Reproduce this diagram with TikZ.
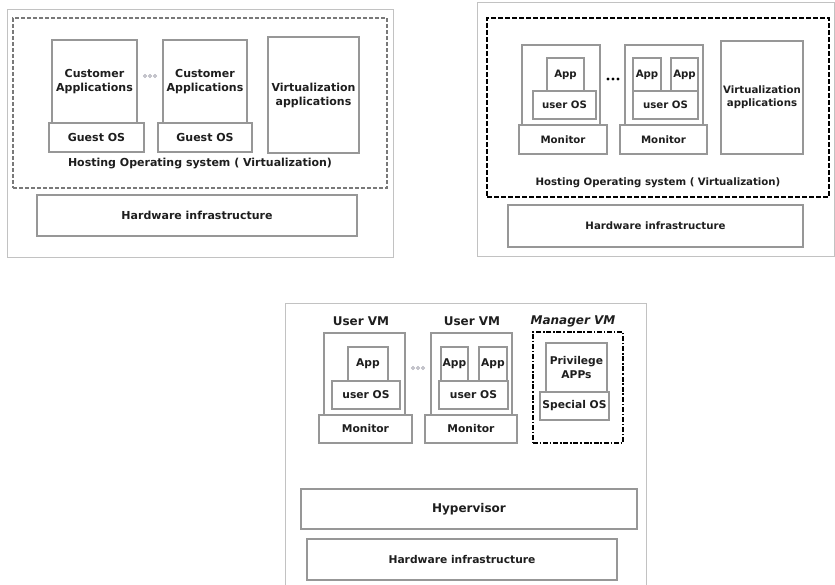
\documentclass[tikz,border=0pt]{standalone}
\usepackage{fontspec}
\setmainfont{DejaVu Sans}
\usetikzlibrary{fit}

\definecolor{edge}{HTML}{979797}
\definecolor{frame}{HTML}{C2C2C2}
\definecolor{ink}{HTML}{1E1E1E}
\definecolor{dotgray}{HTML}{B0B0BA}

\newcommand\fontA{\fontsize{11}{14}\selectfont\bfseries}
\newcommand\fontB{\fontsize{10.2}{13}\selectfont\bfseries}
\newcommand\fontC{\fontsize{10.7}{13.5}\selectfont\bfseries}
\newcommand\fontBig{\fontsize{12}{14}\selectfont\bfseries}

\tikzset{
  blk/.style={draw=edge, line width=1.1pt, fill=white, inner sep=0pt,
              outer sep=0pt},
  panel/.style={draw=frame, line width=1pt},
  lbl/.style={text=ink, inner sep=0pt, align=center},
  hostgray/.style={draw=edge!80!black, line width=1.6pt,
                   dash pattern=on 4pt off 2pt, inner sep=0pt},
  hostblack/.style={draw=black, line width=2pt,
                    dash pattern=on 5pt off 2pt, inner sep=0pt},
  mgrline/.style={draw=black, line width=1.8pt,
                  dash pattern=on 5pt off 1.8pt on 1.5pt off 1.8pt, inner sep=0pt},
  hollowdot/.style={draw=dotgray, line width=0.9pt},
}

% box spanning two corners, with its caption centred inside:
% [caption opts]{name}{x1}{y1}{x2}{y2}{caption}
\newcommand\blk[7][]{%
  \node[blk,fit={(#3,#4) (#5,#6)}] (#2) {};
  \node[lbl,#1] (#2-t) at (#2.center) {#7};}

\begin{document}
\begin{tikzpicture}[x=1pt,y=-1pt]
\useasboundingbox (0,0) rectangle (835,585);

% ---------- hosted virtualization ----------
\begin{scope}[font=\fontA]
  \node[panel, inner sep=0pt, fit={(7,10) (393,258)}] (outerA) {};
  \node[hostgray, fit={(13,18) (387,188)}] (hostA) {};
  \blk{caA1}{52}{40}{137}{123}{Customer\\Applications}
  \blk{goA1}{49}{123}{144}{152}{Guest OS}
  \blk{caA2}{163}{40}{247}{123}{Customer\\Applications}
  \blk{goA2}{158}{123}{252}{152}{Guest OS}
  \blk{vaA}{268}{37}{359}{153}{Virtualization\\applications}
  \foreach \dx in {-5,0,5} \draw[hollowdot] (150+\dx,76) circle (1.6);
  \node[lbl] (hostAtext) at (200,164) {Hosting Operating system ( Virtualization)};
  \blk{hwA}{37}{195}{357}{236}{Hardware infrastructure}
\end{scope}

% ---------- monitor-based virtualization ----------
\begin{scope}[font=\fontB]
  \node[panel, inner sep=0pt, fit={(477,3) (834,257)}] (outerB) {};
  \node[hostblack, fit={(487,18) (829,197)}] (hostB) {};
  \node[blk, fit={(522,45) (600,125)}] (vmB1) {};
  \blk{appB1}{547}{58}{584}{91}{App}
  \blk{uosB1}{533}{91}{596}{119}{user OS}
  \blk{monB1}{519}{125}{607}{154}{Monitor}
  \foreach \dx in {-5,0,5} \fill[black] (613+\dx,79) circle (1.7);
  \node[blk, fit={(625,45) (703,125)}] (vmB2) {};
  \blk{appB2}{633}{58}{661}{91}{App}
  \blk{appB3}{671}{58}{698}{91}{App}
  \blk{uosB2}{633}{91}{698}{119}{user OS}
  \blk{monB2}{620}{125}{707}{154}{Monitor}
  \blk{vaB}{721}{41}{803}{154}{Virtualization\\applications}
  \node[lbl] (hostBtext) at (658,183) {Hosting Operating system ( Virtualization)};
  \blk{hwB}{508}{205}{803}{247}{Hardware infrastructure}
\end{scope}

% ---------- hypervisor-based virtualization ----------
\begin{scope}[font=\fontC]
  \draw[panel] (285,592) -- (285,303) -- (646,303) -- (646,592);
  \node[lbl, font=\fontBig] (uvm1) at (361,321) {User VM};
  \node[lbl, font=\fontBig] (uvm2) at (472,321) {User VM};
  \node[lbl, font=\fontBig\itshape] (mvm) at (573,321) {Manager VM};
  \node[blk, fit={(324,333) (405,415)}] (vmC1) {};
  \blk{appC1}{348}{347}{388}{381}{App}
  \blk{uosC1}{332}{381}{400}{409}{user OS}
  \blk{monC1}{319}{415}{412}{443}{Monitor}
  \foreach \dx in {-5,0,5} \draw[hollowdot] (418+\dx,368) circle (1.6);
  \node[blk, fit={(431,333) (512,415)}] (vmC2) {};
  \blk{appC2}{441}{347}{468}{381}{App}
  \blk{appC3}{479}{347}{507}{381}{App}
  \blk{uosC2}{439}{381}{508}{409}{user OS}
  \blk{monC2}{425}{415}{517}{443}{Monitor}
  \node[mgrline, fit={(533,332) (623,443)}] (mgr) {};
  \blk{priv}{546}{343}{607}{392}{Privilege\\APPs}
  \blk{spos}{540}{392}{609}{420}{Special OS}
  \blk[font=\fontBig]{hyp}{301}{489}{637}{529}{Hypervisor}
  \blk{hwC}{307}{539}{617}{580}{Hardware infrastructure}
\end{scope}
\end{tikzpicture}
\end{document}
